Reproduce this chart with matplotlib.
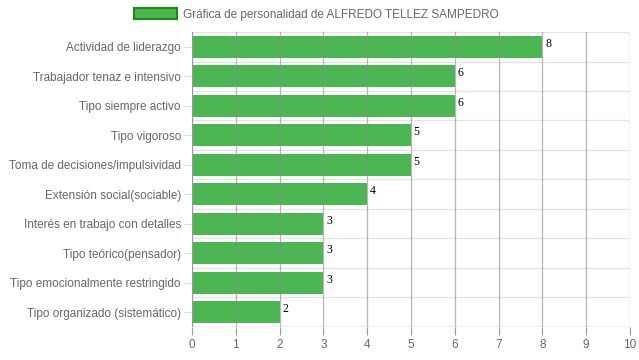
import numpy as np
import matplotlib
matplotlib.use('Agg')
import matplotlib.pyplot as plt
from matplotlib.patches import Patch

categorias = ['Actividad de liderazgo', 'Trabajador tenaz e intensivo', 'Tipo siempre activo',
              'Tipo vigoroso', 'Toma de decisiones/impulsividad', 'Extensión social(sociable)',
              'Interés en trabajo con detalles', 'Tipo teórico(pensador)',
              'Tipo emocionalmente restringido', 'Tipo organizado (sistemático)']
valores = [8, 6, 6, 5, 5, 4, 3, 3, 3, 2]
titulo = 'Gráfica de personalidad de ALFREDO TELLEZ SAMPEDRO'

plt.rcParams['font.family'] = ['Liberation Sans', 'DejaVu Sans']

fig = plt.figure(figsize=(6.39, 3.6), dpi=100)
ax = fig.add_axes([0.3005, 0.0917, 0.6854, 0.8194])

y = np.arange(len(categorias))
ax.barh(y, valores, height=0.74, color='#3cb043', alpha=0.92, zorder=1)

ax.set_xlim(0, 10)
ax.set_ylim(len(categorias) - 0.5, -0.5)
ax.set_xticks(range(0, 11))
ax.set_yticks(y)
ax.set_yticklabels(categorias)
ax.tick_params(axis='both', labelsize=8.5, colors='#666666', length=6, width=0.8)
ax.tick_params(axis='y', color='#dddddd', pad=2)
ax.tick_params(axis='x', color='#999999', pad=3)

# lineas verticales en cada entero, horizontales entre categorias
for xv in range(1, 11):
    ax.axvline(xv, color='#888888', alpha=0.6, lw=0.9, zorder=2)
ax.axvline(0, color='#999999', lw=0.9, zorder=2)
for yb in np.arange(-0.5, len(categorias), 1.0):
    ax.axhline(yb, color='#e3e3e3', lw=0.9, zorder=0)
ax.axhline(len(categorias) - 0.5, color='#999999', lw=0.9, zorder=2)
for s in ax.spines.values():
    s.set_visible(False)

for yi, v in zip(y, valores):
    ax.text(v + 0.06, yi - 0.3, str(v), family='Liberation Serif', fontsize=8.5,
            color='black', va='top', ha='left')

fig.legend(handles=[Patch(facecolor='#4cb54c', edgecolor='#1b8a1b', linewidth=1.5)],
           labels=[titulo], loc='upper center', bbox_to_anchor=(0.495, 1.0),
           frameon=False, fontsize=8.5, labelcolor='#666666',
           handlelength=3.6, handleheight=1.0, handletextpad=0.5, borderaxespad=0.3)

fig.savefig('out.png', dpi=100)
